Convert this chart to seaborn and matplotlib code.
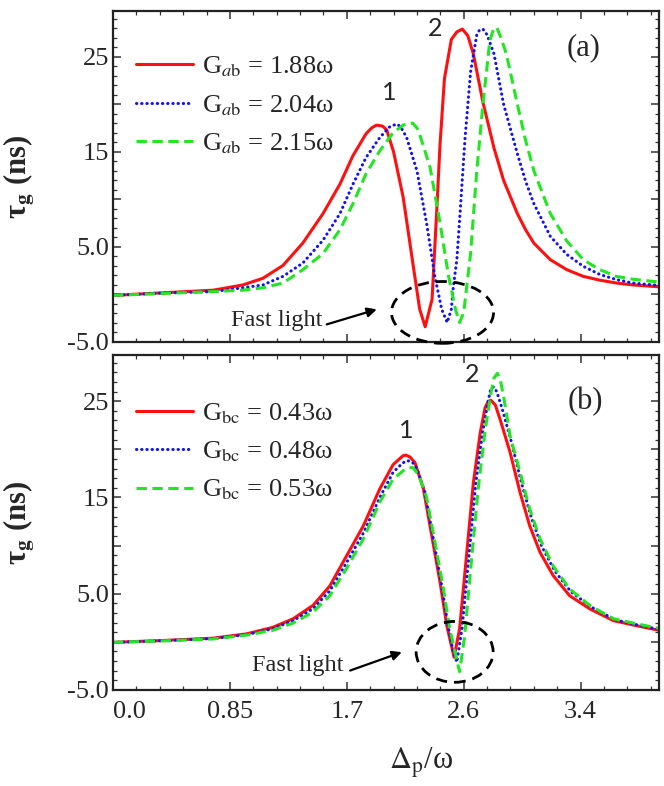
import numpy as np
import pandas as pd
import matplotlib
matplotlib.use("Agg")
import matplotlib.pyplot as plt
import seaborn as sns
from matplotlib.patches import Ellipse
from matplotlib.ticker import FixedLocator, MultipleLocator

# ---------------- data ----------------
# Panel (a): G_ab variations
a_red_x = [0, 0.36, 0.73, 0.945, 1.09, 1.236, 1.38, 1.527, 1.65, 1.745, 1.84, 1.88, 1.915, 1.96,
           1.99, 2.04, 2.11, 2.18, 2.23, 2.27, 2.32, 2.354, 2.378, 2.41, 2.46, 2.50, 2.54, 2.58,
           2.62, 2.69, 2.77, 2.84, 2.94, 3.00, 3.06, 3.18, 3.30, 3.42, 3.54, 3.66, 3.78, 3.97]
a_red_y = [-0.1, 0.17, 0.45, 1.0, 1.7, 3.05, 5.4, 8.5, 11.6, 14.6, 16.9, 17.5, 17.8, 17.7,
           17.3, 15.0, 10.2, 3.3, -1.56, -3.4, -0.5, 8.85, 15.8, 22.7, 26.8, 27.6, 27.9, 27.2,
           25.3, 20.2, 15.4, 12.0, 8.5, 6.8, 5.4, 3.65, 2.6, 1.9, 1.5, 1.2, 1.0, 0.8]

a_blue_x = [0, 0.36, 0.73, 0.945, 1.09, 1.236, 1.38, 1.527, 1.65, 1.745, 1.84, 1.94, 2.01, 2.04,
            2.07, 2.10, 2.135, 2.21, 2.28, 2.34, 2.39, 2.43, 2.46, 2.475, 2.50, 2.52, 2.56, 2.60,
            2.645, 2.665, 2.69, 2.72, 2.77, 2.84, 2.94, 3.00, 3.06, 3.18, 3.30, 3.42, 3.54, 3.66,
            3.78, 3.97]
a_blue_y = [-0.1, 0.15, 0.3, 0.7, 1.0, 1.9, 3.3, 5.7, 8.5, 11.6, 14.4, 16.5, 17.6, 17.8,
            17.9, 17.4, 16.5, 13.0, 7.5, 1.9, -1.56, -2.95, -1.56, 0.86, 3.65, 7.8, 16.5, 23.4,
            27.3, 27.8, 27.9, 27.3, 25.3, 20.0, 14.8, 11.9, 9.55, 6.1, 4.2, 2.95, 2.1, 1.56,
            1.2, 0.95]

a_green_x = [0, 0.36, 0.73, 0.945, 1.09, 1.236, 1.38, 1.527, 1.65, 1.745, 1.84, 1.94, 2.036, 2.11,
             2.145, 2.18, 2.21, 2.23, 2.305, 2.378, 2.44, 2.49, 2.52, 2.55, 2.60, 2.645, 2.69,
             2.74, 2.765, 2.79, 2.82, 2.86, 2.94, 3.00, 3.06, 3.18, 3.30, 3.42, 3.54, 3.66, 3.78,
             3.97]
a_green_y = [-0.1, 0.1, 0.3, 0.45, 0.7, 1.2, 2.6, 4.3, 6.8, 9.55, 12.7, 15.1, 17.0, 17.8,
             18.0, 18.0, 17.5, 16.8, 13.4, 7.5, 1.9, -1.56, -2.95, -1.9, 4.3, 13.0, 20.0,
             26.7, 27.8, 28.1, 27.0, 25.3, 20.0, 16.2, 13.0, 8.5, 5.6, 3.65, 2.6, 1.9, 1.6,
             1.3]

# Panel (b): G_bc variations
b_red_x = [0, 0.36, 0.727, 0.97, 1.16, 1.31, 1.455, 1.576, 1.697, 1.82, 1.94, 2.036, 2.09, 2.11,
           2.13, 2.16, 2.196, 2.257, 2.318, 2.378, 2.427, 2.48, 2.52, 2.57, 2.62, 2.67, 2.705,
           2.725, 2.747, 2.78, 2.815, 2.887, 2.96, 3.03, 3.105, 3.2, 3.32, 3.47, 3.64, 3.80, 3.97]
b_red_y = [-0.05, 0.14, 0.38, 0.83, 1.5, 2.4, 3.8, 5.8, 8.9, 12.05, 15.9, 18.4, 19.1, 19.35,
           19.4, 19.2, 18.6, 15.9, 11.0, 6.2, 1.7, -1.6, 1.35, 8.9, 16.5, 21.7, 24.3,
           24.9, 25.1, 24.6, 23.1, 19.7, 15.5, 12.05, 9.3, 6.9, 4.8, 3.4, 2.2, 1.7, 1.2]

b_blue_x = [0, 0.36, 0.727, 0.97, 1.16, 1.31, 1.455, 1.576, 1.697, 1.82, 1.94, 2.036, 2.10, 2.13,
            2.155, 2.18, 2.21, 2.267, 2.328, 2.388, 2.437, 2.47, 2.50, 2.538, 2.588, 2.638, 2.688,
            2.725, 2.745, 2.766, 2.79, 2.83, 2.90, 2.97, 3.04, 3.115, 3.21, 3.33, 3.48, 3.65,
            3.80, 3.97]
b_blue_y = [-0.05, 0.12, 0.35, 0.75, 1.35, 2.2, 3.45, 5.3, 8.2, 11.3, 15.0, 17.6, 18.5, 18.8,
            18.8, 18.6, 18.0, 15.6, 10.8, 6.0, 1.6, -0.8, -2.1, 1.4, 8.9, 16.5, 21.8,
            24.8, 26.2, 26.5, 26.0, 24.2, 20.6, 16.5, 13.0, 10.0, 7.4, 5.2, 3.6, 2.3,
            1.8, 1.3]

b_green_x = [0, 0.36, 0.727, 0.97, 1.16, 1.31, 1.455, 1.576, 1.697, 1.82, 1.94, 2.036, 2.12, 2.15,
             2.18, 2.22, 2.277, 2.338, 2.398, 2.447, 2.49, 2.52, 2.556, 2.606, 2.656, 2.706, 2.75,
             2.77, 2.795, 2.815, 2.84, 2.887, 2.96, 3.03, 3.105, 3.2, 3.32, 3.47, 3.64, 3.80, 3.97]
b_green_y = [-0.05, 0.1, 0.3, 0.7, 1.2, 1.95, 3.1, 4.8, 7.6, 10.7, 14.5, 16.9, 17.9, 18.1,
             18.1, 17.4, 15.2, 10.6, 5.9, 1.5, -1.3, -3.1, 0.5, 8.4, 16.0, 22.0, 26.0,
             27.4, 27.9, 27.3, 25.5, 21.4, 17.6, 13.8, 10.7, 7.9, 5.5, 3.75, 2.4, 1.9, 1.4]

a_labels = [r"G$_{\mathit{a}\mathrm{b}}$ = 1.88ω", r"G$_{\mathit{a}\mathrm{b}}$ = 2.04ω",
            r"G$_{\mathit{a}\mathrm{b}}$ = 2.15ω"]
b_labels = [r"G$_{\mathrm{bc}}$ = 0.43ω", r"G$_{\mathrm{bc}}$ = 0.48ω",
            r"G$_{\mathrm{bc}}$ = 0.53ω"]

x_ticks = [0.0, 0.85, 1.7, 2.55, 3.4]
x_ticklabels = ["0.0", "0.85", "1.7", "2.6", "3.4"]
y_ticks = [-5, 0, 5, 10, 15, 20, 25]
y_ticklabels = ["-5.0", "", "5.0", "", "15", "", "25"]

# ---------------- style ----------------
sns.set_style("ticks")
plt.rcParams["font.family"] = ["Liberation Serif", "DejaVu Serif"]
plt.rcParams["mathtext.fontset"] = "stix"

RED = "#ff1010"
BLUE = "#1010ff"
GREEN = "#22e622"
LW = 2.2
styles = [
    dict(color=RED, linestyle="-"),
    dict(color=BLUE, linestyle=(0, (0.1, 1.6)), dash_capstyle="round"),
    dict(color=GREEN, linestyle=(0, (3.4, 1.8))),
]

W, H = 664, 786
fig = plt.figure(figsize=(W / 100, H / 100), dpi=100)
ax_a = fig.add_axes([113 / W, (H - 342) / H, 546 / W, 331 / H])
ax_b = fig.add_axes([113 / W, (H - 690) / H, 546 / W, 335 / H])

panels = [
    (ax_a, [(a_red_x, a_red_y), (a_blue_x, a_blue_y), (a_green_x, a_green_y)], a_labels, 0.868),
    (ax_b, [(b_red_x, b_red_y), (b_blue_x, b_blue_y), (b_green_x, b_green_y)], b_labels, 0.862),
]

for ax, series, labels, ly in panels:
    for (xs, ys), lab, st in zip(series, labels, styles):
        df = pd.DataFrame({"x": xs, "y": ys})
        sns.lineplot(data=df, x="x", y="y", ax=ax, sort=False, estimator=None,
                     label=lab, lw=LW, solid_joinstyle="round", **st)
    ax.set_xlim(0, 3.97)
    ax.set_ylim(-5, 29.8)
    ax.set_xlabel("")
    ax.xaxis.set_major_locator(FixedLocator(x_ticks))
    ax.xaxis.set_minor_locator(MultipleLocator(0.17))
    ax.yaxis.set_major_locator(FixedLocator(y_ticks))
    ax.yaxis.set_minor_locator(MultipleLocator(1))
    ax.set_yticklabels(y_ticklabels)
    ax.tick_params(which="both", direction="in", top=True, right=True, color="#333333")
    ax.tick_params(which="major", length=6, width=1.1, labelsize=19, pad=3)
    ax.tick_params(which="minor", length=3, width=0.9)
    for sp in ax.spines.values():
        sp.set_linewidth(1.6)
        sp.set_color("#222222")
    ax.set_ylabel("τ$_{\\mathbf{g}}$ (ns)", fontsize=22, fontweight="bold")
    ax.yaxis.set_label_coords(-0.14, 0.5)
    ax.legend(loc="upper left", bbox_to_anchor=(0.042, ly), frameon=False, fontsize=19,
              handlelength=2.15, handletextpad=0.35, labelspacing=0.52, borderaxespad=0,
              borderpad=0)

ax_a.set_xticklabels([])
ax_b.set_xticklabels(x_ticklabels)
ax_b.get_xticklabels()[0].set_horizontalalignment("left")
ax_b.tick_params(axis="x", which="major", pad=8)
ax_b.set_xlabel(r"$\Delta_{\rm p}$/ω", fontsize=22)
ax_b.xaxis.set_label_coords(0.565, -0.165)

# panel tags
ax_a.text(3.418, 25.9, "(a)", fontsize=22, ha="center", va="center")
ax_b.text(3.433, 25.0, "(b)", fontsize=22, ha="center", va="center")

# peak numbers
pk = dict(fontsize=18, ha="center", va="center", family=["Lato", "DejaVu Sans"])
ax_a.text(2.007, 21.2, "1", **pk)
ax_a.text(2.342, 28.0, "2", **pk)
ax_b.text(2.131, 22.0, "1", **pk)
ax_b.text(2.611, 27.8, "2", **pk)

# fast light annotations
for ax, c, w, h, txt, tail, head in [
    (ax_a, (2.396, -1.89), 0.742, 6.5, (1.193, -2.73), (1.554, -3.15), (1.918, -1.57)),
    (ax_b, (2.484, -1.04), 0.56, 6.32, (1.345, -2.49), (1.724, -2.98), (2.10, -1.07)),
]:
    e = Ellipse(c, w, h, fill=False, edgecolor="black", lw=2.0,
                linestyle=(0, (4, 2.5)), clip_on=False, zorder=5)
    ax.add_patch(e)
    ax.text(txt[0], txt[1], "Fast light", fontsize=17.5, ha="center", va="center")
    ax.annotate("", xy=head, xytext=tail,
                arrowprops=dict(arrowstyle="-|>", lw=1.6, color="black",
                                mutation_scale=14, shrinkA=0, shrinkB=0))

fig.savefig("out.png", dpi=100)
